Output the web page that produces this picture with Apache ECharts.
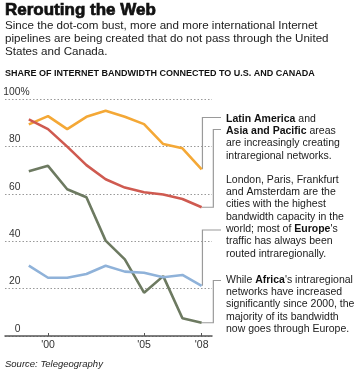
<!DOCTYPE html>
<html><head><meta charset="utf-8">
<script src="https://cdn.jsdelivr.net/npm/echarts@6/dist/echarts.min.js"></script>
<style>html,body{margin:0;padding:0;background:#fff}#c{width:360px;height:370px}</style>
</head><body><div id="c"></div>
<script>
const years = [1999, 2000, 2001, 2002, 2003, 2004, 2005, 2006, 2007, 2008];
const latinAmerica = [89.4, 92.9, 87.4, 92.6, 95.2, 92.6, 89.5, 81.1, 79.3, 70.4];
const asiaPacific = [91.5, 87.4, 80.0, 72.2, 66.2, 62.7, 60.7, 59.8, 57.9, 54.4];
const africa = [69.6, 71.9, 62.0, 58.6, 40.3, 32.4, 18.3, 25.3, 7.5, 5.6];
const europe = [29.7, 24.6, 24.6, 26.2, 29.7, 27.2, 26.7, 24.8, 25.8, 21.2];
const xTickYears = [2000, 2005, 2008];
const yTicks = [0, 20, 40, 60, 80, 100];

const FONT = '"Liberation Sans", Arial, Helvetica, sans-serif';
const pairs = arr => years.map((y, i) => [y, arr[i]]);
const chart = echarts.init(document.getElementById('c'), null, {renderer: 'canvas'});

function line(name, arr, color) {
  return {
    name, type: 'line', data: pairs(arr), symbol: 'none', smooth: false,
    lineStyle: {color, width: 2.6}, z: 3
  };
}

const option = {
  animation: false,
  backgroundColor: '#fff',
  grid: {left: 5, right: 148, top: 99.3, bottom: 34, containLabel: false},
  xAxis: {
    type: 'value', min: 1997.76, max: 2008.54,
    axisLine: {show: true, lineStyle: {color: '#555', width: 1.5}},
    axisTick: {show: true, inside: true, length: 3, customValues: xTickYears, lineStyle: {color: '#555'}},
    axisLabel: {customValues: xTickYears, formatter: v => "'" + String(v).slice(2), margin: 4,
      fontSize: 10.5, fontFamily: FONT, color: '#333'},
    splitLine: {show: false}
  },
  yAxis: {
    type: 'value', min: 0, max: 100, interval: 20,
    axisLine: {show: false}, axisTick: {show: false},
    axisLabel: {inside: true, margin: 15.5, align: 'right', verticalAlign: 'bottom',
      padding: [0, 0, 2, 0], fontSize: 10.3, fontFamily: FONT, color: '#333'},
    splitLine: {show: true, lineStyle: {color: '#999', type: [1.5, 2], width: 1}}
  },
  series: [
    line('Latin America', latinAmerica, '#F4A836'),
    line('Asia and Pacific', asiaPacific, '#CF5A50'),
    line('Africa', africa, '#6D7A61'),
    line('Europe', europe, '#8FB2D9')
  ]
};
chart.setOption(option);

const px = (x, y) => chart.convertToPixel({gridIndex: 0}, [x, y]);
const last = years.length - 1;
const pO = px(years[last], latinAmerica[last]);
const pR = px(years[last], asiaPacific[last]);
const pB = px(years[last], europe[last]);
const pG = px(years[last], africa[last]);
const p100 = px(1997.76, 100);

const x1 = pO[0] + 0.8, x2 = pO[0] + 11.7, xe = 221;
const brColor = '#9a9a9a';
const LH = 12.3;
const tx = 226;
const bodyRich = {
  b: {fontWeight: 'bold', fontSize: 10.5, fontFamily: FONT, fill: '#111', lineHeight: LH}
};
function para(text, centerY) {
  return {type: 'text', style: {text, x: tx, y: centerY - LH / 2, fontSize: 10.5, fontFamily: FONT,
    fill: '#1a1a1a', lineHeight: LH, verticalAlign: 'top', rich: bodyRich}};
}
function poly(points) {
  return {type: 'polyline', shape: {points}, style: {stroke: brColor, lineWidth: 1.2, fill: null}, z: 1};
}

chart.setOption({
  graphic: [
    {type: 'text', style: {text: 'Rerouting the Web', x: 5, y: 10.5, verticalAlign: 'middle',
      font: 'bold 17px ' + FONT, fill: '#111', stroke: '#111', lineWidth: 0.7}},
    {type: 'text', style: {text: 'Since the dot-com bust, more and more international Internet\npipelines are being created that do not pass through the United\nStates and Canada.',
      x: 5, y: 26 - 6.5, verticalAlign: 'top', fontSize: 11.6, fontFamily: FONT, lineHeight: 13.1, fill: '#1a1a1a'}},
    {type: 'text', style: {text: 'SHARE OF INTERNET BANDWIDTH CONNECTED TO U.S. AND CANADA', x: 5, y: 74,
      verticalAlign: 'middle', font: 'bold 9px ' + FONT, fill: '#111'}},
    {type: 'text', style: {text: '%', x: 20.5, y: p100[1] - 2, verticalAlign: 'bottom', fontSize: 10.3,
      fontFamily: FONT, fill: '#333'}},
    {type: 'text', style: {text: 'Source: Telegeography', x: 5, y: 364, verticalAlign: 'middle',
      font: 'italic 9.5px ' + FONT, fill: '#222'}},
    poly([[xe, 117.5], [x1, 117.5], [x1, pO[1]]]),
    poly([[xe, 129.5], [x2, 129.5], [x2, pR[1]], [pR[0], pR[1]]]),
    poly([[xe, 230], [x1, 230], [x1, pB[1]]]),
    poly([[xe, 280.5], [x2, 280.5], [x2, pG[1]], [pG[0], pG[1]]]),
    para('{b|Latin America} and\n{b|Asia and Pacific} areas\nare increasingly creating\nintraregional networks.', 118.8),
    para('London, Paris, Frankfurt\nand Amsterdam are the\ncities with the highest\nbandwidth capacity in the\nworld; most of {b|Europe}\'s\ntraffic has always been\nrouted intraregionally.', 180),
    para('While {b|Africa}\'s intraregional\nnetworks have increased\nsignificantly since 2000, the\nmajority of its bandwidth\nnow goes through Europe.', 280)
  ]
});
</script></body></html>
